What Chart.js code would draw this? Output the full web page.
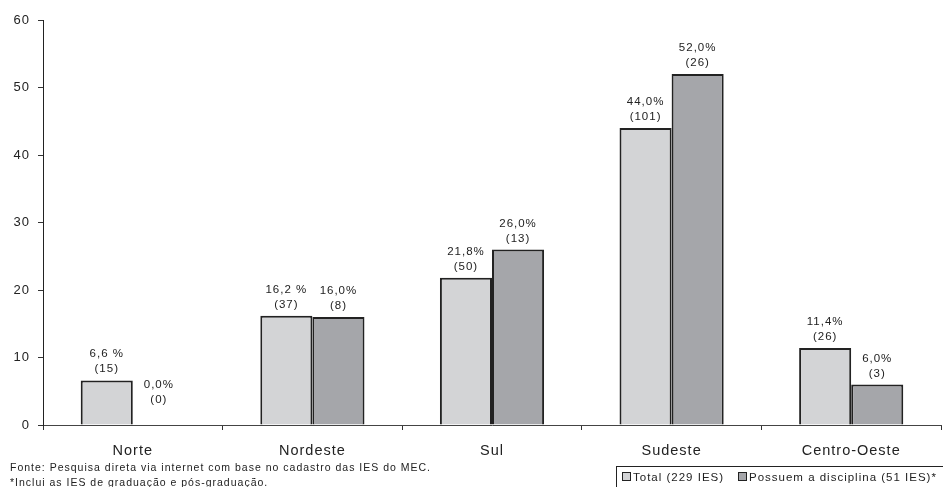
<!DOCTYPE html>
<html>
<head>
<meta charset="utf-8">
<script src="https://cdn.jsdelivr.net/npm/chart.js@4/dist/chart.umd.min.js"></script>
<style>
  html, body { margin: 0; padding: 0; background: #fff; }
  #wrap { width: 943px; height: 487px; position: relative; }
</style>
</head>
<body>
<div id="wrap"><canvas id="grafico" width="943" height="487"></canvas></div>
<script>
// Regiões e valores (%)
const regioes = ['Norte', 'Nordeste', 'Sul', 'Sudeste', 'Centro-Oeste'];
const totalValores = [6.6, 16.2, 21.8, 44.0, 11.4];
const totalRotulos = ['6,6 %', '16,2 %', '21,8%', '44,0%', '11,4%'];
const totalQtd = [15, 37, 50, 101, 26];
const disciplinaValores = [0.0, 16.0, 26.0, 52.0, 6.0];
const disciplinaRotulos = ['0,0%', '16,0%', '26,0%', '52,0%', '6,0%'];
const disciplinaQtd = [0, 8, 13, 26, 3];
const yTicks = [0, 10, 20, 30, 40, 50, 60];

const legendaTextos = ['Total (229 IES)', 'Possuem a disciplina (51 IES)*'];
const notas = [
  'Fonte: Pesquisa direta via internet com base no cadastro das IES do MEC.',
  '*Inclui as IES de graduação e pós-graduação.'
];

const corTexto = '#222';
const fonte = '"Liberation Sans", Arial, sans-serif';

// Espaçamento de letras como no original
const espacamento = {
  id: 'espacamento',
  beforeDraw(chart) { chart.ctx.letterSpacing = '1px'; }
};

// Rótulos de valor acima das barras
const rotulosBarras = {
  id: 'rotulosBarras',
  afterDatasetsDraw(chart) {
    const ctx = chart.ctx;
    ctx.save();
    ctx.font = '11.5px ' + fonte;
    ctx.fillStyle = corTexto;
    ctx.textAlign = 'center';
    ctx.textBaseline = 'alphabetic';
    chart.data.datasets.forEach(function(ds, i) {
      const meta = chart.getDatasetMeta(i);
      meta.data.forEach(function(bar, j) {
        let topo = bar.y;
        if (ds.data[j] === 0) topo -= 14;
        ctx.fillText('(' + ds.qtd[j] + ')', bar.x, topo - 8);
        ctx.fillText(ds.rotulos[j], bar.x, topo - 23);
      });
    });
    ctx.restore();
  }
};

// Notas de rodapé e legenda com moldura
const rodape = {
  id: 'rodape',
  afterDraw(chart) {
    const ctx = chart.ctx;
    ctx.save();
    ctx.letterSpacing = '1px';
    ctx.font = '10.5px ' + fonte;
    ctx.fillStyle = corTexto;
    ctx.textAlign = 'left';
    ctx.textBaseline = 'alphabetic';
    ctx.fillText(notas[0], 10, 471);
    ctx.fillText(notas[1], 10, 486);

    // legenda
    ctx.strokeStyle = '#222';
    ctx.lineWidth = 1;
    ctx.strokeRect(616.5, 466.5, 330, 25);
    ctx.font = '11.5px ' + fonte;
    ctx.textBaseline = 'middle';
    const posicoes = [622, 738];
    chart.data.datasets.forEach(function(ds, i) {
      const x = posicoes[i];
      ctx.fillStyle = ds.backgroundColor;
      ctx.fillRect(x, 472, 9, 9);
      ctx.strokeRect(x + 0.5, 472.5, 8, 8);
      ctx.fillStyle = corTexto;
      ctx.fillText(legendaTextos[i], x + 11, 477.5);
    });
    ctx.restore();
  }
};

new Chart(document.getElementById('grafico'), {
  type: 'bar',
  data: {
    labels: regioes,
    datasets: [
      {
        label: legendaTextos[0],
        data: totalValores,
        rotulos: totalRotulos,
        qtd: totalQtd,
        backgroundColor: '#d3d4d6',
        borderColor: '#222',
        borderWidth: 2,
        categoryPercentage: 0.58,
        barPercentage: 1.0
      },
      {
        label: legendaTextos[1],
        data: disciplinaValores,
        rotulos: disciplinaRotulos,
        qtd: disciplinaQtd,
        backgroundColor: '#a5a6aa',
        borderColor: '#222',
        borderWidth: 2,
        categoryPercentage: 0.58,
        barPercentage: 1.0
      }
    ]
  },
  options: {
    responsive: false,
    animation: false,
    devicePixelRatio: 1,
    layout: { padding: { top: 20, right: 2, left: 0, bottom: 0 } },
    plugins: {
      legend: { display: false },
      tooltip: { enabled: false }
    },
    scales: {
      x: {
        grid: {
          offset: true,
          drawOnChartArea: false,
          tickLength: 5,
          color: '#333'
        },
        border: { display: true, color: '#444', width: 1 },
        ticks: {
          color: corTexto,
          font: { family: fonte, size: 14.5 },
          padding: 12
        },
        afterFit(scale) { scale.height = 62; }
      },
      y: {
        min: 0,
        max: 60,
        afterBuildTicks(scale) {
          scale.ticks = yTicks.map(function(v) { return { value: v }; });
        },
        grid: {
          drawOnChartArea: false,
          tickLength: 5,
          color: '#333'
        },
        border: { display: true, color: '#222', width: 1 },
        ticks: {
          color: corTexto,
          font: { family: fonte, size: 13 },
          padding: 8
        },
        afterFit(scale) { scale.width = 43; }
      }
    }
  },
  plugins: [espacamento, rotulosBarras, rodape]
});
</script>
</body>
</html>
